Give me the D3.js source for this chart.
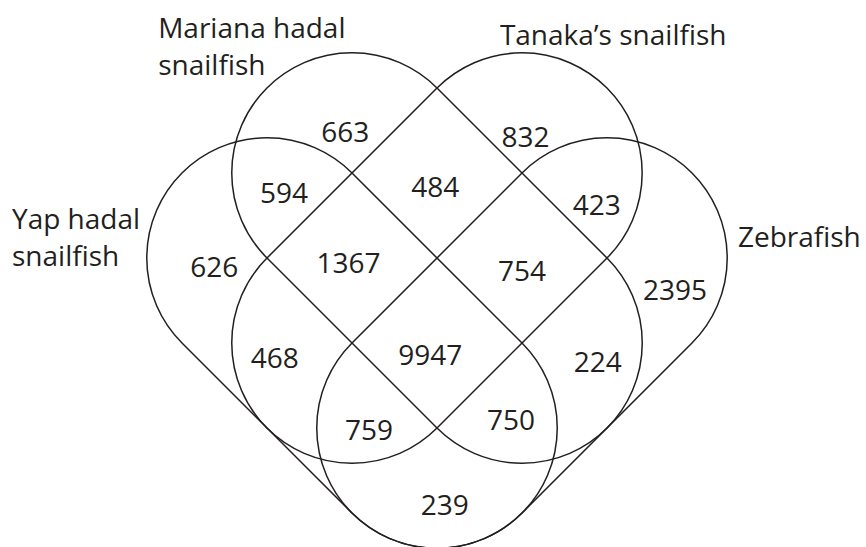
<!DOCTYPE html>
<html>
<head>
<meta charset="utf-8">
<script src="https://cdn.jsdelivr.net/npm/d3@7"></script>
<style>
  html, body { margin: 0; padding: 0; background: #fff; }
  svg { display: block; }
  text { font-family: "Open Sans", "Noto Sans", sans-serif; fill: #231f20; }
</style>
</head>
<body>
<svg id="chart" width="866" height="547"></svg>
<script>
// sets, in drawing order
var setKeys = ['Y', 'M', 'T', 'Z'];
var setLabels = [
    ['Yap hadal', 'snailfish'],
    ['Mariana hadal', 'snailfish'],
    ['Tanaka\u2019s snailfish'],
    ['Zebrafish']
];

// regions (which sets they belong to) and their gene counts
var regionKeys = ['M', 'T', 'Y', 'Z', 'MT', 'YM', 'TZ', 'YMT', 'MTZ', 'YT', 'MZ', 'YMTZ', 'YTZ', 'YMZ', 'YZ'];
var regionCounts = [663, 832, 626, 2395, 484, 594, 423, 1367, 754, 468, 224, 9947, 759, 750, 239];

// layout, in lattice units (1 unit = half the cap spacing)
var shapes = {
    Y: {c1: [-2, 0], c2: [0, 2]},
    M: {c1: [-1, -1], c2: [1, 1]},
    T: {c1: [1, -1], c2: [-1, 1]},
    Z: {c1: [2, 0], c2: [0, 2]}
};
var capRadius = Math.SQRT2;

var setLabelPos = {
    Y: [-5.0, -0.34],
    M: [-3.28, -2.59],
    T: [0.74, -2.51],
    Z: [3.54, -0.13]
};
var regionPos = {
    M: [-1.08, -1.37], T: [1.04, -1.31], Y: [-2.62, 0.22], Z: [2.80, 0.49],
    MT: [-0.02, -0.72], YM: [-1.80, -0.65], TZ: [1.88, -0.51],
    YMT: [-1.04, 0.18], MTZ: [1.0, 0.27],
    YT: [-1.91, 1.29], MZ: [1.89, 1.34], YMTZ: [-0.08, 1.26],
    YTZ: [-0.80, 2.14], YMZ: [0.87, 2.02], YZ: [0.09, 3.02]
};

var svg = d3.select('#chart');
var x = d3.scaleLinear().domain([0, 1]).range([437, 522]);
var y = d3.scaleLinear().domain([0, 1]).range([258, 343]);
var unit = x(1) - x(0);

var stadiumPath = function (s) {
    var x1 = x(s.c1[0]), y1 = y(s.c1[1]);
    var x2 = x(s.c2[0]), y2 = y(s.c2[1]);
    var r = capRadius * unit;
    var len = Math.hypot(x2 - x1, y2 - y1);
    var dx = (x2 - x1) / len, dy = (y2 - y1) / len;
    var nx = -dy, ny = dx;
    var a = Math.atan2(ny, nx);
    var p = d3.path();
    p.moveTo(x1 + r * nx, y1 + r * ny);
    p.lineTo(x2 + r * nx, y2 + r * ny);
    p.arc(x2, y2, r, a, a - Math.PI, true);
    p.lineTo(x1 - r * nx, y1 - r * ny);
    p.arc(x1, y1, r, a - Math.PI, a - 2 * Math.PI, true);
    p.closePath();
    return p.toString();
};

svg.selectAll('path.set')
    .data(setKeys)
    .enter()
    .append('path')
    .attr('class', 'set')
    .attr('d', function (k) { return stadiumPath(shapes[k]); })
    .style('fill', 'none')
    .style('stroke', '#231f20')
    .style('stroke-width', 1.5);

var labels = svg.selectAll('text.setlabel')
    .data(setKeys)
    .enter()
    .append('text')
    .attr('class', 'setlabel')
    .attr('x', function (k) { return x(setLabelPos[k][0]); })
    .attr('y', function (k) { return y(setLabelPos[k][1]); })
    .style('font-size', '28px');

labels.each(function (k, i) {
    var t = d3.select(this);
    setLabels[i].forEach(function (line, j) {
        t.append('tspan')
            .attr('x', x(setLabelPos[k][0]))
            .attr('dy', j === 0 ? 0 : 37)
            .text(line);
    });
});

svg.selectAll('text.count')
    .data(regionKeys)
    .enter()
    .append('text')
    .attr('class', 'count')
    .attr('x', function (k) { return x(regionPos[k][0]); })
    .attr('y', function (k) { return y(regionPos[k][1]); })
    .attr('text-anchor', 'middle')
    .style('font-size', '28px')
    .text(function (k, i) { return regionCounts[i]; });
</script>
</body>
</html>
